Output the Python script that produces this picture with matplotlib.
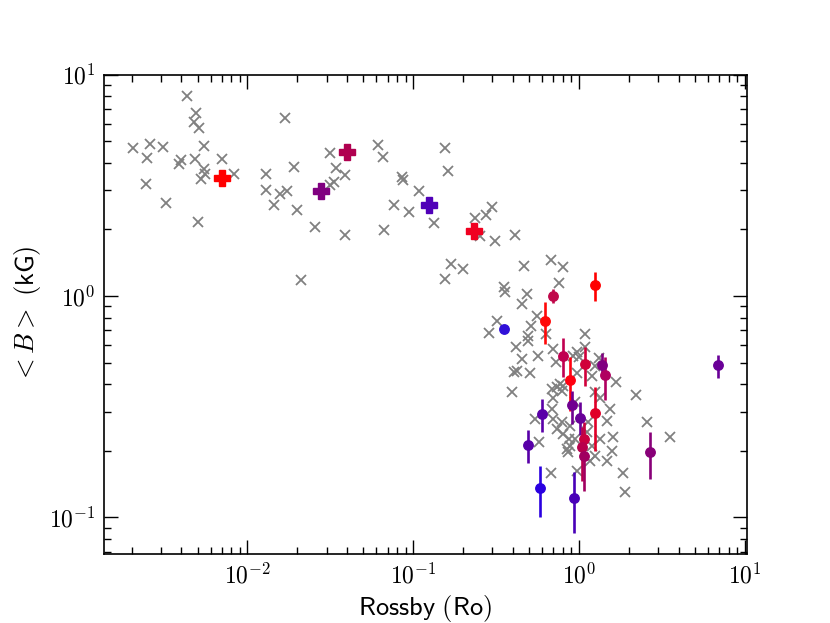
import matplotlib
matplotlib.use('Agg')
import matplotlib.pyplot as plt
from matplotlib.ticker import FuncFormatter
import numpy as np

plt.rcParams['mathtext.fontset'] = 'cm'

# grey crosses: literature sample (Rossby number, <B> in kG)
lit_ro = [0.00204, 0.00258, 0.00309, 0.00249, 0.00243, 0.00321, 0.00433, 0.00493,
          0.00476, 0.00512, 0.00546, 0.00389, 0.00400, 0.00482, 0.00546, 0.00554,
          0.00528, 0.00500, 0.00704, 0.00832, 0.01289, 0.01297, 0.01581, 0.01743,
          0.01440, 0.01985, 0.01678, 0.01901, 0.02097, 0.02571, 0.0313, 0.0342,
          0.0331, 0.0316, 0.0389, 0.0385, 0.0613, 0.0658, 0.0855, 0.0863,
          0.1076, 0.0761, 0.0938, 0.0669, 0.1339, 0.1560, 0.1619, 0.2374,
          0.2754, 0.2977, 0.2534, 0.3123, 0.1693, 0.1983, 0.1553, 0.4135,
          0.468, 0.678, 0.805, 0.755, 0.355, 0.360, 0.487, 0.453,
          0.557, 0.321, 0.288, 0.512, 0.491, 0.491, 0.632, 0.417,
          1.092, 0.701, 0.451, 0.569, 0.969, 0.924, 0.727, 0.406,
          0.425, 0.505, 0.393, 1.664, 2.206, 2.570, 3.535, 1.834,
          1.893, 0.678, 1.092, 1.004, 0.977, 1.248, 1.193, 1.325,
          0.685, 0.735, 0.769, 0.787, 0.805, 1.339, 1.248, 0.701,
          0.685, 0.543, 0.577, 0.701, 0.787, 0.740, 0.883, 0.805,
          0.875, 0.947, 0.844, 0.862, 0.883, 1.138, 1.113, 1.193,
          1.339, 1.469, 1.537, 1.609, 1.248, 1.469, 0.947, 1.574,
          1.166, 0.969]
lit_b = [4.69, 4.85, 4.71, 4.20, 3.20, 2.64, 8.02, 6.74,
         6.11, 5.74, 4.78, 3.94, 4.10, 4.15, 3.76, 3.57,
         3.37, 2.17, 4.15, 3.55, 3.55, 3.02, 2.90, 2.97,
         2.59, 2.45, 6.40, 3.83, 1.18, 2.06, 4.41, 3.80,
         3.27, 3.16, 3.51, 1.88, 4.80, 4.25, 3.45, 3.36,
         2.97, 2.57, 2.39, 1.99, 2.14, 4.69, 3.67, 2.26,
         2.33, 2.52, 1.86, 1.78, 1.39, 1.33, 1.20, 1.89,
         1.37, 1.46, 1.35, 1.14, 1.10, 1.04, 1.02, 0.922,
         0.810, 0.775, 0.684, 0.735, 0.663, 0.629, 0.675, 0.587,
         0.675, 0.577, 0.520, 0.538, 0.557, 0.538, 0.502, 0.452,
         0.460, 0.447, 0.370, 0.409, 0.359, 0.270, 0.230, 0.1595,
         0.1304, 0.1595, 0.591, 0.532, 0.447, 0.485, 0.437, 0.525,
         0.380, 0.387, 0.401, 0.374, 0.394, 0.348, 0.367, 0.348,
         0.309, 0.278, 0.218, 0.278, 0.269, 0.251, 0.259, 0.238,
         0.226, 0.226, 0.2035, 0.1965, 0.2106, 0.269, 0.242, 0.2106,
         0.226, 0.273, 0.309, 0.230, 0.190, 0.180, 0.331, 0.200,
         0.180, 0.162]

# filled plus markers
plus_ro = [0.00704, 0.0279, 0.0400, 0.1245, 0.2335]
plus_b = [3.40, 2.98, 4.46, 2.59, 1.97]
plus_col = ['#ff0000', '#800080', '#b00050', '#5000b8', '#f00020']

# circles with error bars
circ_ro = [0.352, 1.243, 0.695, 0.627, 0.798, 0.883, 1.083, 1.371, 1.435, 0.908, 0.596,
           1.019, 1.248, 1.067, 1.043, 1.076, 0.495, 0.580, 0.933, 2.690, 6.85]
circ_b = [0.711, 1.124, 1.005, 0.775, 0.538, 0.418, 0.495, 0.488, 0.440, 0.323, 0.293,
          0.282, 0.295, 0.226, 0.209, 0.190, 0.212, 0.1355, 0.1229, 0.1965, 0.486]
circ_lo = [0.711, 0.954, 0.928, 0.608, 0.429, 0.303, 0.394, 0.445, 0.340, 0.264, 0.242,
           0.236, 0.200, 0.186, 0.146, 0.131, 0.176, 0.1005, 0.0848, 0.149, 0.426]
circ_hi = [0.711, 1.281, 1.078, 0.944, 0.644, 0.532, 0.591, 0.553, 0.532, 0.374, 0.343,
           0.333, 0.387, 0.269, 0.255, 0.230, 0.248, 0.170, 0.161, 0.242, 0.544]
circ_col = ['#3010d8', '#ff0000', '#c0084a', '#ff0808', '#c00050', '#ff0010', '#d0003a',
            '#800080', '#b00060', '#700090', '#5a00a8', '#680098', '#e00028', '#c80040',
            '#b8004c', '#a00060', '#5800a8', '#2a00e0', '#4800b8', '#880078', '#6a0098']

fig, ax = plt.subplots(figsize=(8.3, 6.23), dpi=100)

ax.plot(lit_ro, lit_b, 'x', color='grey', ms=7, mew=1.3, zorder=2)

for ro, b, c in zip(plus_ro, plus_b, plus_col):
    ax.plot(ro, b, 'P', color=c, ms=11, zorder=3)

for ro, b, lo, hi, c in zip(circ_ro, circ_b, circ_lo, circ_hi, circ_col):
    ax.errorbar(ro, b, yerr=[[b - lo], [hi - b]], fmt='o', color=c, ms=6.8,
                elinewidth=1.9, capsize=0, zorder=3)

ax.set_xscale('log')
ax.set_yscale('log')
ax.set_xlim(1.36e-3, 10.3)
ax.set_ylim(0.068, 10)


def pow10(v, pos):
    return r'$10^{%d}$' % int(round(np.log10(v)))


ax.xaxis.set_major_formatter(FuncFormatter(pow10))
ax.yaxis.set_major_formatter(FuncFormatter(pow10))

ax.tick_params(which='both', direction='in', top=True, right=True, labelsize=17)
ax.tick_params(which='major', length=10, width=1, pad=6)
ax.tick_params(which='minor', length=5, width=1)
for sp in ax.spines.values():
    sp.set_linewidth(1.2)

ax.set_xlabel(r'$\mathsf{Rossby\ (Ro)}$', fontsize=19)
ax.set_ylabel(r'$<B>\ \mathsf{(kG)}$', fontsize=19)

fig.savefig('out.png')
